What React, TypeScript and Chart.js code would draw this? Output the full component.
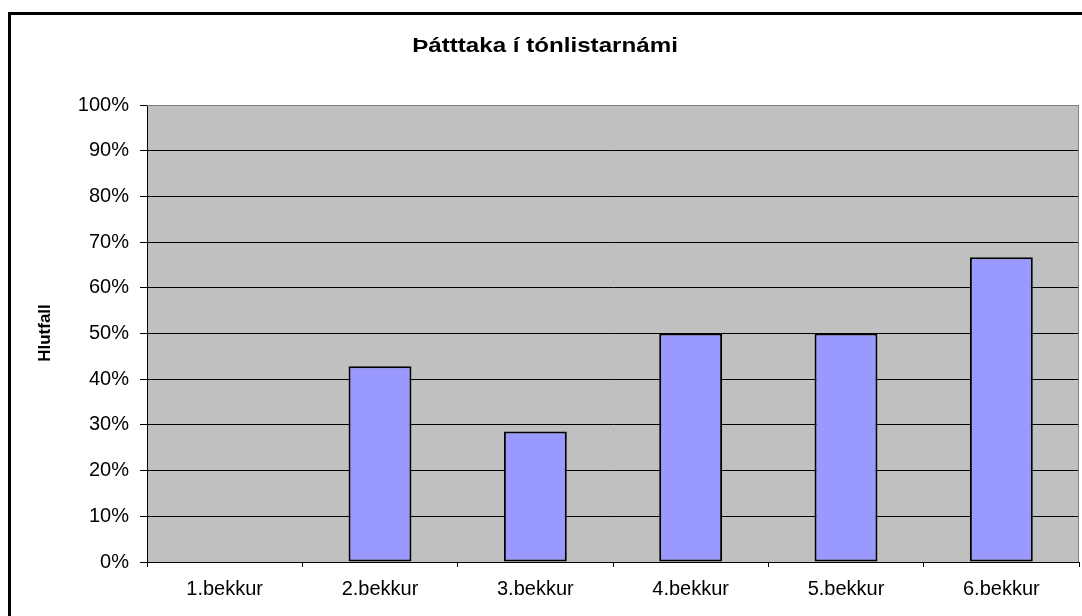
import React, { useEffect, useRef } from 'react';
import { Chart, registerables } from 'chart.js';

Chart.register(...registerables);

const chartTitle = 'Þátttaka í tónlistarnámi';
const yAxisTitle = 'Hlutfall';
const categories = ['1.bekkur', '2.bekkur', '3.bekkur', '4.bekkur', '5.bekkur', '6.bekkur'];
const shares = [0, 42.86, 28.57, 50, 50, 66.67];
const yMin = 0;
const yMax = 100;
const yStep = 10;

const FONT = '"Liberation Sans", Arial, sans-serif';

const framePlugin = {
  id: 'frame',
  beforeDraw(chart: any) {
    const { ctx, chartArea } = chart;
    ctx.save();
    ctx.fillStyle = '#ffffff';
    ctx.fillRect(0, 0, chart.width, chart.height);
    ctx.fillStyle = '#c0c0c0';
    ctx.fillRect(chartArea.left, chartArea.top, chartArea.right - chartArea.left, chartArea.bottom - chartArea.top);
    // outer chart border (left + top visible)
    ctx.strokeStyle = '#000000';
    ctx.lineWidth = 3;
    ctx.beginPath();
    ctx.moveTo(9.5, chart.height + 5);
    ctx.lineTo(9.5, 13.5);
    ctx.lineTo(chart.width + 5, 13.5);
    ctx.stroke();
    ctx.restore();
    // title (slightly widened, as in the reference)
    ctx.save();
    ctx.fillStyle = '#000000';
    ctx.font = 'bold 21px ' + FONT;
    ctx.textAlign = 'center';
    ctx.textBaseline = 'middle';
    ctx.translate(545, 46);
    ctx.scale(1.15, 1);
    ctx.fillText(chartTitle, 0, 0);
    ctx.restore();
    // y axis title
    ctx.save();
    ctx.fillStyle = '#000000';
    ctx.textAlign = 'center';
    ctx.textBaseline = 'middle';
    ctx.translate(45, 333);
    ctx.rotate(-Math.PI / 2);
    ctx.font = 'bold 17px ' + FONT;
    ctx.fillText(yAxisTitle, 0, 0);
    ctx.restore();
  },
  afterDatasetsDraw(chart: any) {
    const { ctx, chartArea } = chart;
    ctx.save();
    ctx.strokeStyle = '#808080';
    ctx.lineWidth = 1;
    ctx.beginPath();
    ctx.moveTo(chartArea.left, chartArea.top + 0.5);
    ctx.lineTo(chartArea.right - 0.5, chartArea.top + 0.5);
    ctx.lineTo(chartArea.right - 0.5, chartArea.bottom);
    ctx.stroke();
    ctx.restore();
  },
};

export default function App() {
  const ref = useRef<HTMLCanvasElement>(null);
  useEffect(() => {
    const chart = new Chart(ref.current!, {
      type: 'bar',
      data: {
        labels: categories,
        datasets: [
          {
            data: shares,
            backgroundColor: '#9999ff',
            borderColor: '#000000',
            borderWidth: 2,
            borderSkipped: false,
            categoryPercentage: 1,
            barPercentage: 0.405,
          },
        ],
      },
      options: {
        responsive: false,
        animation: false,
        layout: { padding: { top: 105, right: 3, bottom: 0, left: 0 } },
        plugins: {
          legend: { display: false },
          title: { display: false },
          tooltip: { enabled: false },
        },
        scales: {
          x: {
            offset: true,
            grid: {
              offset: true,
              drawOnChartArea: false,
              drawTicks: true,
              tickLength: 5,
              tickColor: '#000000',
              color: '#000000',
            },
            border: { display: true, color: '#000000', width: 1 },
            ticks: {
              color: '#000000',
              font: { family: FONT, size: 20 },
              padding: 10,
              maxRotation: 0,
            },
            afterFit(scale: any) {
              scale.height = 54;
            },
          },
          y: {
            min: yMin,
            max: yMax,
            grid: {
              color: (c: any) => (c.tick && c.tick.value === yMax ? '#808080' : '#000000'),
              tickColor: '#000000',
              tickLength: 7,
              lineWidth: 1,
            },
            border: { display: true, color: '#000000', width: 1 },
            ticks: {
              stepSize: yStep,
              color: '#000000',
              font: { family: FONT, size: 20 },
              padding: 11,
              callback: (v: any) => v + '%',
            },
            afterFit(scale: any) {
              scale.width = 147;
            },
          },
        },
      },
      plugins: [framePlugin],
    });
    return () => chart.destroy();
  }, []);
  return (
    <div style={{ position: 'fixed', left: 0, top: 0, width: 1082, height: 616, background: '#fff', overflow: 'hidden' }}>
      <canvas ref={ref} width={1082} height={616} style={{ display: 'block' }} />
    </div>
  );
}
